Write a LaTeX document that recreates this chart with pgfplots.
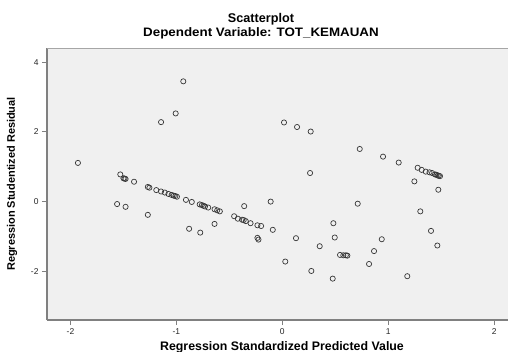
\documentclass[border=0pt]{standalone}
\usepackage{fontspec}
\setmainfont{Liberation Sans}
\usepackage{pgfplots}
\pgfplotsset{compat=1.18}
\definecolor{bg}{RGB}{240,240,240}
\definecolor{axisgray}{RGB}{128,128,128}
\definecolor{markc}{RGB}{55,55,55}
\begin{document}
\begin{tikzpicture}
\path[use as bounding box] (-47bp,-32bp) rectangle (461bp,320bp);
\begin{axis}[
  at={(0,0)}, anchor=south west,
  scale only axis, width=461bp, height=272bp,
  xmin=-2.222, xmax=2.131, ymin=-3.397, ymax=4.407,
  axis x line*=bottom, axis y line*=left,
  axis line style={axisgray, line width=1.3bp},
  axis background/.style={fill=bg},
  xtick={-2,-1,0,1,2}, ytick={-2,0,2,4},
  tick align=outside, major tick length=5bp,
  tick style={axisgray, line width=0.8bp},
  ticklabel style={font=\fontsize{8.5}{9}\selectfont, text=black!85},
  /pgf/number format/assume math mode=true,
]
\addplot[only marks, mark=o, mark size=2.6bp, mark options={draw=markc, line width=0.7bp}] coordinates {
(-1.93,1.11) (-1.53,0.78) (-1.50,0.67) (-1.49,0.66) (-1.48,0.65) (-1.40,0.57)
(-1.27,0.42) (-1.255,0.40) (-1.19,0.33) (-1.145,0.29) (-1.11,0.26) (-1.075,0.22)
(-1.045,0.19) (-1.025,0.17) (-1.01,0.16) (-0.995,0.14) (-0.91,0.05) (-0.855,-0.01)
(-0.78,-0.08) (-0.76,-0.10) (-0.745,-0.12) (-0.73,-0.14) (-0.70,-0.17)
(-0.64,-0.22) (-0.615,-0.25) (-0.59,-0.28) (-0.455,-0.42) (-0.42,-0.49)
(-0.38,-0.52) (-0.365,-0.53) (-0.345,-0.56) (-0.30,-0.62) (-0.235,-0.68) (-0.20,-0.70)
(-1.56,-0.07) (-1.48,-0.15) (-1.27,-0.38) (-0.88,-0.78) (-0.775,-0.89) (-0.64,-0.64)
(-0.36,-0.13) (-0.235,-1.04) (-0.225,-1.09) (-0.09,-0.81) (-0.11,0.0)
(-0.935,3.45) (-1.007,2.53) (-1.145,2.28)
(0.016,2.27) (0.139,2.14) (0.268,2.01) (0.262,0.82) (0.731,1.51) (0.712,-0.06)
(0.951,1.29) (1.099,1.12) (1.247,0.58) (1.473,0.34) (1.303,-0.28) (1.404,-0.84)
(1.464,-1.26) (0.939,-1.08) (1.180,-2.14) (0.129,-1.05) (0.482,-0.62) (0.495,-1.03)
(0.353,-1.28) (0.028,-1.72) (0.274,-1.99) (0.476,-2.21) (0.545,-1.53) (0.576,-1.54)
(0.60,-1.54) (0.614,-1.55) (0.866,-1.42) (0.819,-1.79)
(1.278,0.97) (1.316,0.91) (1.354,0.86) (1.39,0.84) (1.414,0.82) (1.442,0.78)
(1.455,0.77) (1.467,0.75) (1.478,0.74) (1.489,0.73)
};
\draw[black!35, line width=0.8bp] (rel axis cs:0,1) -- (rel axis cs:1,1);
\end{axis}
\node[font=\bfseries\fontsize{12.7}{14}\selectfont, anchor=base] at (214bp,297bp) {Scatterplot};
\node[font=\bfseries\fontsize{12.3}{14}\selectfont, anchor=base] at (214bp,283bp) {\scalebox{1.09}[1]{Dependent Variable: TOT\_KEMAUAN}};
\node[font=\bfseries\fontsize{12.4}{13}\selectfont, anchor=base] at (235bp,-30.5bp) {Regression Standardized Predicted Value};
\node[font=\bfseries\fontsize{11}{12}\selectfont, rotate=90] at (-35bp,136bp) {Regression Studentized Residual};
\end{tikzpicture}
\end{document}
